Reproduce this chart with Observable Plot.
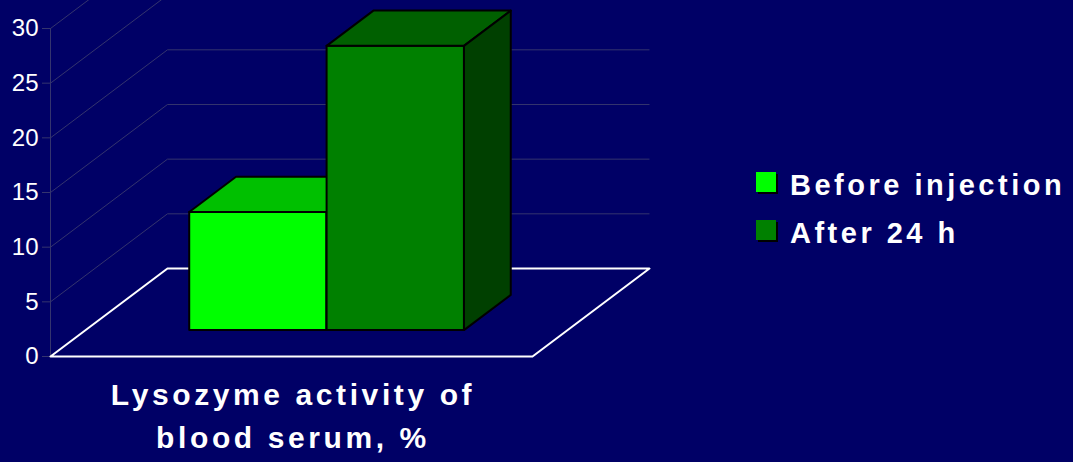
<!DOCTYPE html>
<html>
<head>
<meta charset="utf-8">
<script src="https://cdn.jsdelivr.net/npm/d3@7"></script>
<script src="https://cdn.jsdelivr.net/npm/@observablehq/plot@0.6"></script>
<style>
  html, body { margin: 0; padding: 0; background: #000066; }
  #wrap { position: relative; width: 1073px; height: 462px; overflow: hidden; background: #000066; font-family: Arial, "Liberation Sans", sans-serif; }
  #chart { position: absolute; left: 0; top: 0; }
  .legend { position: absolute; left: 756px; top: 170px; color: white; font-weight: bold; font-size: 29px; letter-spacing: 3.5px; }
  .legend .row { position: relative; height: 48px; line-height: 30px; white-space: nowrap; }
  .legend .sw { position: absolute; left: 0; top: 2px; width: 20px; height: 20px; box-shadow: 2px 2px 0 #000; }
  .legend .lbl { position: absolute; left: 34px; top: 0px; }
  .xlabel { position: absolute; left: 43px; width: 500px; top: 373px; text-align: center; color: white; font-weight: bold; font-size: 30px; letter-spacing: 3.6px; line-height: 43px; }
</style>
</head>
<body>
<div id="wrap">
  <div id="chart"></div>
  <div class="legend" id="legend"></div>
  <div class="xlabel" id="xlabel"></div>
</div>
<script>
// ---- data ----
const categories = ["Lysozyme activity of", "blood serum, %"]; // category label (two lines)
const series = ["Before injection", "After 24 h"];
const values = [10.8, 26.0];
const yTicks = [0, 5, 10, 15, 20, 25, 30];

// ---- styles ----
const frontColors = ["#00ff00", "#008000"];
const topColors = ["#00c000", "#006000"];
const sideColors = ["#00a000", "#004000"];
const gridColor = "#34346e";

// ---- 3D geometry (in data units: x = fraction of floor width, y = value units) ----
const depthX = 0.2427;   // full depth shift along x
const depthY = 8.05;     // full depth shift along y
const d0 = 0.3, d1 = 0.7; // bar depth extent
const barW = 0.285;       // bar width as fraction of floor width

const P = (u, v, d) => ({x: u + d * depthX, y: v + d * depthY});

// walls: left diagonals + back horizontals for each tick above 0
const gridTicks = yTicks.filter(t => t > 0);
const leftDiag = gridTicks.map(t => ({x1: 0, y1: t, x2: depthX, y2: t + depthY}));
const backLines = gridTicks.map(t => ({x1: depthX, y1: t + depthY, x2: 1 + depthX, y2: t + depthY}));

// floor outline
const floor = [P(0, 0, 0), P(1, 0, 0), P(1, 0, 1), P(0, 0, 1), P(0, 0, 0)];

// bar faces
const faces = [];
values.forEach((val, i) => {
  const u0 = 0.5 - barW + i * barW, u1 = u0 + barW;
  const add = (name, pts, fill) => pts.forEach(p => faces.push({...p, id: `${i}-${name}`, fill}));
  add("front", [P(u0, 0, d0), P(u1, 0, d0), P(u1, val, d0), P(u0, val, d0)], frontColors[i]);
  add("top", [P(u0, val, d0), P(u1, val, d0), P(u1, val, d1), P(u0, val, d1)], topColors[i]);
  add("side", [P(u1, 0, d0), P(u1, 0, d1), P(u1, val, d1), P(u1, val, d0)], sideColors[i]);
});

const chart = Plot.plot({
  width: 1073,
  height: 462,
  marginLeft: 50,
  marginRight: 541,
  marginTop: 28,
  marginBottom: 106,
  style: {background: "transparent", color: "white", fontFamily: "Arial, 'Liberation Sans', sans-serif"},
  x: {type: "linear", domain: [0, 1], axis: null},
  y: {type: "linear", domain: [0, 30], axis: null},
  color: {type: "identity"},
  marks: [
    Plot.link(leftDiag, {x1: "x1", y1: "y1", x2: "x2", y2: "y2", stroke: gridColor, strokeWidth: 1}),
    Plot.link(backLines, {x1: "x1", y1: "y1", x2: "x2", y2: "y2", stroke: gridColor, strokeWidth: 1}),
    Plot.ruleX([0], {y1: 0, y2: 30, stroke: gridColor, strokeWidth: 1}),
    Plot.axisY({ticks: yTicks, tickSize: 8, tickPadding: 4, stroke: gridColor, fill: "white", fontSize: 24, label: null}),
    Plot.line(floor, {x: "x", y: "y", stroke: "white", strokeWidth: 2}),
    Plot.line(faces, {x: "x", y: "y", z: "id", fill: "fill", stroke: "black", strokeWidth: 2, curve: "linear-closed"})
  ]
});
document.getElementById("chart").appendChild(chart);

// legend
const legend = document.getElementById("legend");
series.forEach((s, i) => {
  const row = document.createElement("div");
  row.className = "row";
  const sw = document.createElement("span");
  sw.className = "sw";
  sw.style.background = frontColors[i];
  const lbl = document.createElement("span");
  lbl.className = "lbl";
  lbl.textContent = s;
  row.appendChild(sw);
  row.appendChild(lbl);
  legend.appendChild(row);
});

// category label
const xl = document.getElementById("xlabel");
categories.forEach(c => {
  const d = document.createElement("div");
  d.textContent = c;
  xl.appendChild(d);
});
</script>
</body>
</html>
